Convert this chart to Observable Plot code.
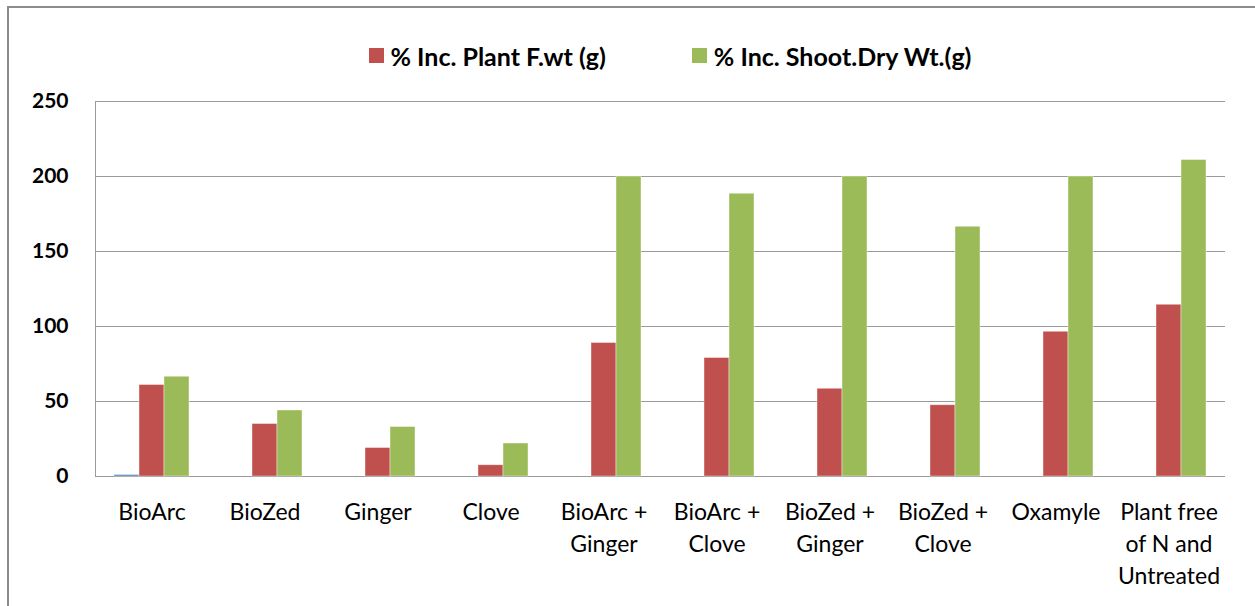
<!DOCTYPE html>
<html>
<head>
<meta charset="utf-8">
<script src="https://cdn.jsdelivr.net/npm/d3@7"></script>
<script src="https://cdn.jsdelivr.net/npm/@observablehq/plot@0.6"></script>
<style>
  html, body { margin: 0; padding: 0; background: #fff; overflow: hidden; width: 1255px; height: 606px; }
  #frame { position: absolute; left: 7px; top: 6px; width: 1300px; height: 700px; border: 2px solid #8c8c8c; box-sizing: border-box; pointer-events: none; }
  #legend { height: 80px; display: flex; justify-content: center; align-items: flex-start; padding-left: 85px; box-sizing: border-box; font-family: Lato, sans-serif; font-weight: bold; font-size: 25px; color: #000; }
  #legend .item { display: flex; align-items: center; margin: 40px 43px 0 43px; height: 31px; }
  #legend .sw { width: 15px; height: 15px; margin-right: 7px; }
  #chart { display: block; }
</style>
</head>
<body>
<div id="frame"></div>
<div id="legend"></div>
<div id="chart"></div>
<script>
const categories = ["BioArc", "BioZed", "Ginger", "Clove", "BioArc +\nGinger", "BioArc +\nClove", "BioZed +\nGinger", "BioZed +\nClove", "Oxamyle", "Plant free\nof N and\nUntreated"];
const seriesNames = ["Series 1", "% Inc. Plant F.wt (g)", "% Inc. Shoot.Dry Wt.(g)"];
const seriesColors = ["#4F81BD", "#C0504D", "#9BBB59"];
const legendSeries = ["% Inc. Plant F.wt (g)", "% Inc. Shoot.Dry Wt.(g)"];
const series1 = [1, 0, 0, 0, 0, 0, 0, 0, 0, 0];
const plantFwt = [61, 35, 19, 7.5, 89, 79, 58.5, 47.5, 96.5, 114.5];
const shootDryWt = [66.5, 44, 33, 22, 200, 188.5, 200, 166.5, 200, 211];
const yTicks = [0, 50, 100, 150, 200, 250];

const seriesValues = [series1, plantFwt, shootDryWt];
const data = [];
categories.forEach((c, i) => {
  seriesNames.forEach((s, j) => data.push({category: c, series: s, value: seriesValues[j][i]}));
});

// legend
const legend = document.getElementById("legend");
legendSeries.forEach(s => {
  const item = document.createElement("div");
  item.className = "item";
  const sw = document.createElement("span");
  sw.className = "sw";
  sw.style.background = seriesColors[seriesNames.indexOf(s)];
  const t = document.createElement("span");
  t.textContent = s;
  item.appendChild(sw); item.appendChild(t);
  legend.appendChild(item);
});

const marks = [
  Plot.gridY(yTicks, {stroke: "#9a9a9a", strokeOpacity: 1, strokeWidth: 1}),
  Plot.barY(data, {fx: "category", x: "series", y: "value", fill: "series", stroke: "#ffffff", strokeOpacity: 0.5, strokeWidth: 0.8}),
  Plot.axisY(yTicks, {tickSize: 0, tickPadding: 27, fontSize: 21, fontWeight: "bold", label: null}),
  Plot.axisFx({anchor: "bottom", tickSize: 0, tickPadding: 21, fontSize: 23, lineHeight: 1.39, label: null})
];
try {
  marks.push(Plot.frame({anchor: "left", stroke: "#9a9a9a", facet: "super"}));
} catch (e) {}

const chart = Plot.plot({
  width: 1255,
  height: 526,
  marginLeft: 93,
  marginRight: 28,
  marginTop: 21,
  marginBottom: 130,
  style: {fontFamily: "Lato, sans-serif", fontSize: "21px", color: "#000", background: "transparent"},
  fx: {domain: categories, paddingInner: 0, paddingOuter: 0, label: null},
  x: {domain: seriesNames, paddingInner: 0, paddingOuter: 0.74, axis: null},
  y: {domain: [0, 250], label: null},
  color: {domain: seriesNames, range: seriesColors},
  marks
});
document.getElementById("chart").appendChild(chart);
</script>
</body>
</html>
